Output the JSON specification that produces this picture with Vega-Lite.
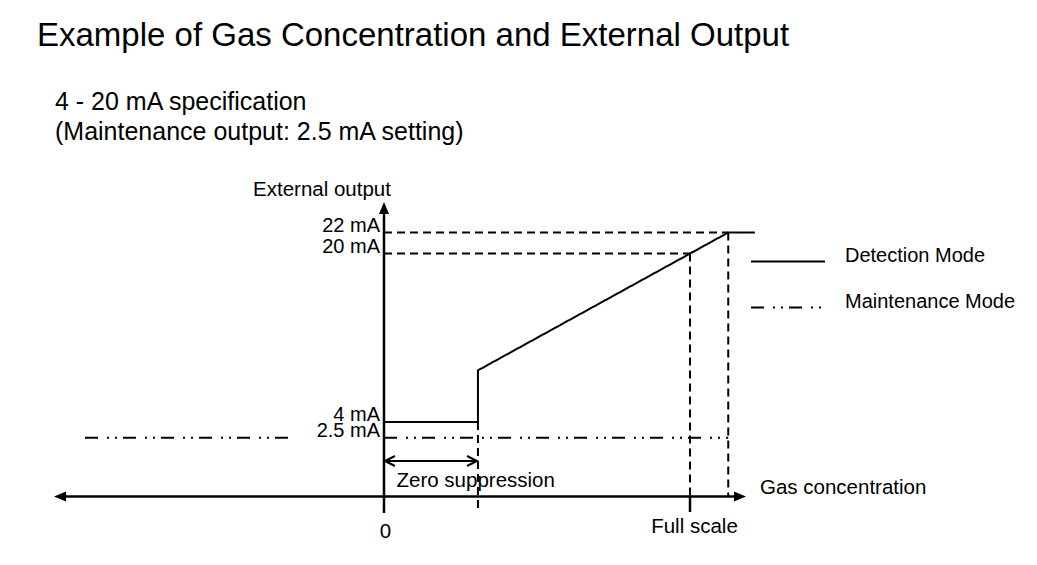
{
  "$schema": "https://vega.github.io/schema/vega-lite/v6.json",
  "width": 1037,
  "height": 505,
  "autosize": {"type": "none"},
  "padding": {"left": 0, "right": 0, "top": 60, "bottom": 0},
  "background": "white",
  "title": {
    "text": "Example of Gas Concentration and External Output",
    "anchor": "start",
    "frame": "group",
    "dx": 37,
    "dy": 28,
    "offset": 9,
    "baseline": "alphabetic",
    "font": "Liberation Sans",
    "fontSize": 33,
    "fontWeight": "normal",
    "color": "black"
  },
  "config": {
    "view": {"stroke": null},
    "legend": {
      "orient": "none",
      "legendX": 750,
      "legendY": 191.5
    }
  },
  "encoding": {
    "x": {"field": "x", "type": "quantitative", "axis": null, "scale": {"domain": [-125.49, 213.399], "nice": false, "zero": false}},
    "y": {"field": "y", "type": "quantitative", "axis": null, "scale": {"domain": [-9.575, 38.383], "nice": false, "zero": false}}
  },
  "layer": [
    {
      "data": {"values": [
        {"x": 0, "y": 22, "x2": 112.5, "y2": 22},
        {"x": 0, "y": 20, "x2": 100, "y2": 20},
        {"x": 100, "y": 20, "x2": 100, "y2": -3.07},
        {"x": 112.5, "y": 22, "x2": 112.5, "y2": -3.07},
        {"x": 30.7, "y": 4, "x2": 30.7, "y2": -4.542}
      ]},
      "mark": {"type": "rule", "color": "black", "strokeWidth": 2, "strokeDash": [8, 5]},
      "encoding": {
        "x2": {"field": "x2"},
        "y2": {"field": "y2"}
      }
    },
    {
      "data": {"values": [
        {"x": 0, "y": -4.637, "x2": 0, "y2": 24.0},
        {"x": -105, "y": -3.07, "x2": 116, "y2": -3.07},
        {"x": 100, "y": -3.07, "x2": 100, "y2": -4.542}
      ]},
      "mark": {"type": "rule", "color": "black", "strokeWidth": 2.5},
      "encoding": {
        "x2": {"field": "x2"},
        "y2": {"field": "y2"}
      }
    },
    {
      "data": {"values": [
        {"x": 0.3, "y": 0.302, "x2": 30.4, "y2": 0.302}
      ]},
      "mark": {"type": "rule", "color": "black", "strokeWidth": 2},
      "encoding": {
        "x2": {"field": "x2"},
        "y2": {"field": "y2"}
      }
    },
    {
      "data": {"values": [
        {"mode": "Detection Mode", "seg": "D", "ord": 1, "x": 0, "y": 4},
        {"mode": "Detection Mode", "seg": "D", "ord": 2, "x": 30.7, "y": 4},
        {"mode": "Detection Mode", "seg": "D", "ord": 3, "x": 30.7, "y": 8.91},
        {"mode": "Detection Mode", "seg": "D", "ord": 4, "x": 112.5, "y": 22},
        {"mode": "Detection Mode", "seg": "D", "ord": 5, "x": 121.2, "y": 22},
        {"mode": "Maintenance Mode", "seg": "M1", "ord": 1, "x": -97.71, "y": 2.5},
        {"mode": "Maintenance Mode", "seg": "M1", "ord": 2, "x": -30.72, "y": 2.5},
        {"mode": "Maintenance Mode", "seg": "M2", "ord": 1, "x": 0, "y": 2.5},
        {"mode": "Maintenance Mode", "seg": "M2", "ord": 2, "x": 112.5, "y": 2.5}
      ]},
      "mark": {"type": "line", "color": "black", "strokeWidth": 2},
      "encoding": {
        "detail": {"field": "seg"},
        "order": {"field": "ord", "type": "quantitative"},
        "strokeDash": {
          "field": "mode",
          "type": "nominal",
          "scale": {"domain": ["Detection Mode", "Maintenance Mode"], "range": [[1, 0], [13, 9, 2, 6, 2, 6]]},
          "legend": {
            "title": null,
            "padding": 0,
            "symbolType": "stroke",
            "symbolSize": 5476,
            "symbolStrokeWidth": 2,
            "symbolStrokeColor": "black",
            "labelFont": "Liberation Sans",
            "labelFontSize": 20,
            "labelColor": "black",
            "labelOffset": 19,
            "labelLimit": 400,
            "labelBaseline": "alphabetic",
            "clipHeight": 20,
            "rowPadding": 20
          }
        }
      }
    },
    {
      "data": {"values": [
        {"dir": "up", "x": 0, "y": 24.328},
        {"dir": "left", "x": -105.88, "y": -3.07},
        {"dir": "right", "x": 116.34, "y": -3.07}
      ]},
      "mark": {"type": "point", "filled": true, "color": "black", "opacity": 1, "size": 100, "strokeWidth": 0},
      "encoding": {
        "shape": {"field": "dir", "type": "nominal", "legend": null,
          "scale": {"domain": ["up", "left", "right"], "range": ["M0,-1.2L1,1.2L-1,1.2Z", "M-1.2,0L1.2,-1L1.2,1Z", "M1.2,0L-1.2,-1L-1.2,1Z"]}}
      }
    },
    {
      "data": {"values": [
        {"end": "start", "x": 0.3, "y": 0.302},
        {"end": "end", "x": 30.4, "y": 0.302}
      ]},
      "mark": {"type": "point", "filled": false, "color": "black", "opacity": 1, "size": 100, "strokeWidth": 2},
      "encoding": {
        "shape": {"field": "end", "type": "nominal", "legend": null,
          "scale": {"domain": ["start", "end"], "range": ["M2,-1L0,0L2,1", "M-2,-1L0,0L-2,1"]}}
      }
    },
    {
      "data": {"values": [
        {"text": "4 - 20 mA specification", "x": -107.52, "y": 33.635},
        {"text": "(Maintenance output: 2.5 mA setting)", "x": -107.52, "y": 30.786}
      ]},
      "mark": {"type": "text", "align": "left", "baseline": "alphabetic", "font": "Liberation Sans", "fontSize": 25, "color": "black"},
      "encoding": {"text": {"field": "text"}}
    },
    {
      "data": {"values": [
        {"label": "22 mA", "x": -1.31, "y": 22},
        {"label": "20 mA", "x": -1.31, "y": 20},
        {"label": "4 mA", "x": -1.31, "y": 4},
        {"label": "2.5 mA", "x": -1.31, "y": 2.5}
      ]},
      "mark": {"type": "text", "align": "right", "baseline": "alphabetic", "dy": -1, "font": "Liberation Sans", "fontSize": 20, "color": "black"},
      "encoding": {"text": {"field": "label"}}
    },
    {
      "data": {"values": [
        {"text": "External output", "x": -20.26, "y": 25.468},
        {"text": "Zero suppression", "x": 29.97, "y": -2.139},
        {"text": "Full scale", "x": 101.47, "y": -6.507},
        {"text": "0", "x": 0.44, "y": -7.03}
      ]},
      "mark": {"type": "text", "align": "center", "baseline": "alphabetic", "font": "Liberation Sans", "fontSize": 20.5, "color": "black"},
      "encoding": {"text": {"field": "text"}}
    },
    {
      "data": {"values": [
        {"text": "Gas concentration", "x": 122.88, "y": -2.832}
      ]},
      "mark": {"type": "text", "align": "left", "baseline": "alphabetic", "font": "Liberation Sans", "fontSize": 20.5, "color": "black"},
      "encoding": {"text": {"field": "text"}}
    }
  ],
  "resolve": {"scale": {"shape": "independent"}}
}
